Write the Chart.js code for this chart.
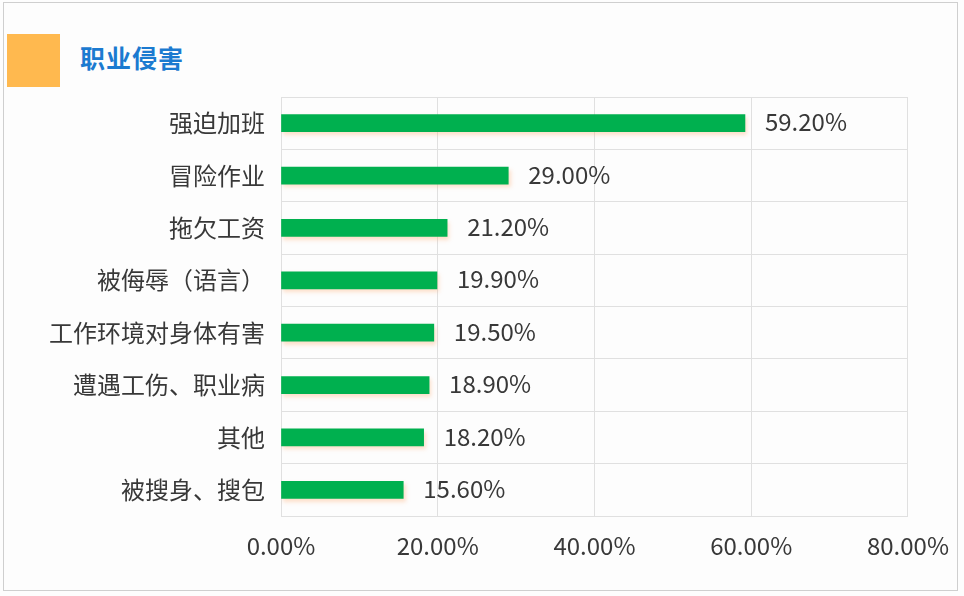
<!DOCTYPE html>
<html>
<head>
<meta charset="utf-8">
<script src="https://cdn.jsdelivr.net/npm/chart.js@4.4.0/dist/chart.umd.min.js"></script>
<style>
  html, body { margin: 0; padding: 0; background: #fff; }
  #wrap { position: relative; width: 964px; height: 596px; overflow: hidden; background: #fdfdfd; }
  #frame { position: absolute; left: 3px; top: 2px; width: 953px; height: 587px; border: 1px solid #cfcfcf; }
  #badge { position: absolute; left: 7px; top: 34px; width: 53px; height: 53px; background: #ffb94f; }
  #title { position: absolute; left: 80px; top: 39px; font: bold 25px "Noto Sans CJK SC", sans-serif; color: #1b7ad0; letter-spacing: 1px; }
  #c { position: absolute; left: 0; top: 0; }
</style>
</head>
<body>
<div id="wrap">
  <div id="frame"></div>
  <div id="badge"></div>
  <div id="title">职业侵害</div>
  <canvas id="c" width="964" height="596"></canvas>
</div>
<script>
var categories = ["强迫加班", "冒险作业", "拖欠工资", "被侮辱（语言）", "工作环境对身体有害", "遭遇工伤、职业病", "其他", "被搜身、搜包"];
var values = [59.2, 29.0, 21.2, 19.9, 19.5, 18.9, 18.2, 15.6];
var xTicks = [0, 20, 40, 60, 80];

var font = '"Noto Sans CJK SC", "Noto Sans", sans-serif';
var gridColor = "#e0e0e0";
var textColor = "#383838";

// value labels at bar ends
var valueLabels = {
  id: "valueLabels",
  afterDatasetsDraw: function (chart) {
    var ctx = chart.ctx;
    var meta = chart.getDatasetMeta(0);
    ctx.save();
    ctx.font = "24px " + font;
    ctx.fillStyle = textColor;
    ctx.textAlign = "left";
    ctx.textBaseline = "middle";
    meta.data.forEach(function (bar, i) {
      ctx.fillText(values[i].toFixed(2) + "%", bar.x + 20, bar.y - 1);
    });
    ctx.restore();
  }
};

// soft shadow under bars
var barShadow = {
  id: "barShadow",
  beforeDatasetsDraw: function (chart) {
    var ctx = chart.ctx;
    ctx.save();
    ctx.shadowColor = "rgba(255,170,110,0.35)";
    ctx.shadowBlur = 4;
    ctx.shadowOffsetX = 2;
    ctx.shadowOffsetY = 3;
  },
  afterDatasetsDraw: function (chart) {
    chart.ctx.restore();
  }
};

new Chart(document.getElementById("c"), {
  type: "bar",
  data: {
    labels: categories,
    datasets: [{
      data: values,
      backgroundColor: "#00b04f",
      barThickness: 17
    }]
  },
  options: {
    indexAxis: "y",
    responsive: false,
    animation: false,
    layout: { padding: { top: 97, right: 50, bottom: 0, left: 0 } },
    plugins: { legend: { display: false }, tooltip: { enabled: false } },
    scales: {
      x: {
        min: 0,
        max: 80,
        afterBuildTicks: function (scale) {
          scale.ticks = xTicks.map(function (v) { return { value: v }; });
        },
        afterFit: function (scale) { scale.height = 80; },
        grid: { color: gridColor, drawTicks: false },
        border: { color: gridColor },
        ticks: {
          padding: 15,
          color: textColor,
          font: { size: 24, family: font },
          maxRotation: 0,
          callback: function (v) { return v.toFixed(2) + "%"; }
        }
      },
      y: {
        afterFit: function (scale) { scale.width = 281; },
        grid: { color: gridColor, drawTicks: false, offset: true },
        border: { color: gridColor },
        ticks: {
          padding: 16,
          color: textColor,
          font: { size: 24, family: font }
        }
      }
    }
  },
  plugins: [barShadow, valueLabels]
});
</script>
</body>
</html>
